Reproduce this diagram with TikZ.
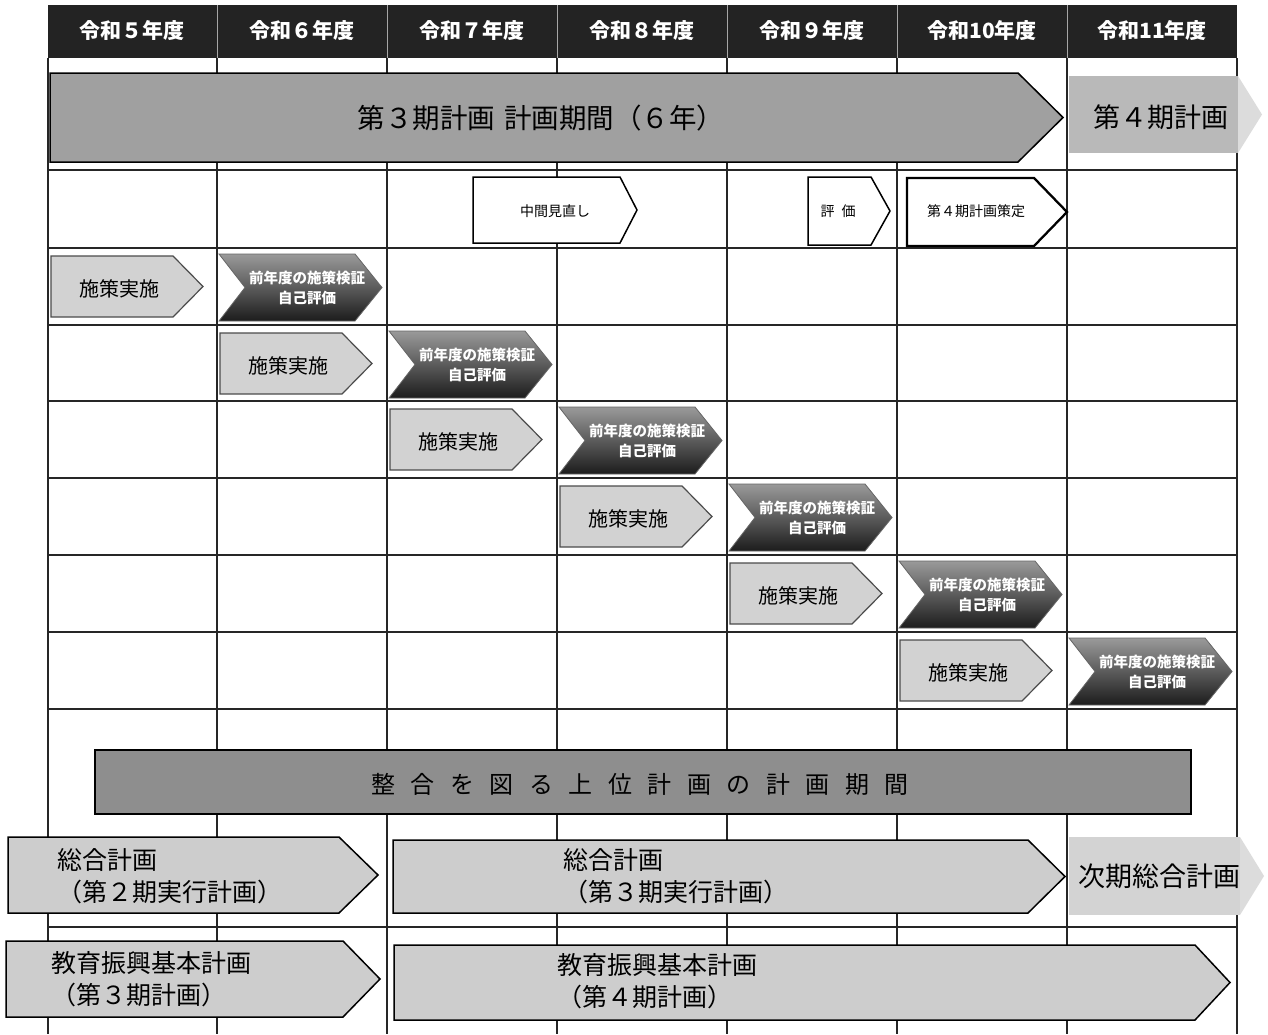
\documentclass[tikz,border=0pt]{standalone}
\usepackage{fontspec}
\newfontfamily\jp{Noto Sans CJK JP}
\definecolor{hdr}{HTML}{232323}
\definecolor{mainfill}{HTML}{A0A0A0}
\definecolor{fourthfill}{HTML}{B9B9B9}
\definecolor{fadefill}{HTML}{DCDCDC}
\definecolor{sesakufill}{HTML}{D2D2D2}
\definecolor{chevtop}{HTML}{9A9A9A}
\definecolor{chevbot}{HTML}{1C1C1C}
\definecolor{barfill}{HTML}{8E8E8E}
\definecolor{planfill}{HTML}{CDCDCD}
\definecolor{nextfill}{HTML}{D3D3D3}
\newcommand\pentarrow[6]{\path[#1] (#2,#3) -- (#4,#3) -- (#5,{(#3+#6)/2}) -- (#4,#6) -- (#2,#6) -- cycle;}
\newcommand\chevarrow[7]{\path[#1] (#2,#3) -- (#4,#3) -- (#5,{(#3+#6)/2}) -- (#4,#6) -- (#2,#6) -- ({#2+#7},{(#3+#6)/2}) -- cycle;}
\begin{document}
\begin{tikzpicture}[x=1pt,y=-1pt,line join=miter,
  gridline/.style={line width=1.2pt,black!85},
  hdrtxt/.style={inner sep=0,text=white,font=\jp\bfseries\fontsize{21}{24}\selectfont},
  bigtxt/.style={inner sep=0,font=\jp\fontsize{26}{30}\selectfont},
  smalltxt/.style={inner sep=0,font=\jp\fontsize{14}{16}\selectfont},
  sesakutxt/.style={inner sep=0,font=\jp\fontsize{20}{22}\selectfont},
  chevtxt/.style={inner sep=0,align=center,text=white,font=\jp\bfseries\fontsize{14.5}{20}\selectfont},
  plantxt/.style={inner sep=0,anchor=west,align=left,font=\jp\fontsize{25}{32}\selectfont},
  bartxt/.style={inner sep=0,font=\jp\fontsize{24}{28}\selectfont}]
\useasboundingbox (0,0) rectangle (1268,1034);
\fill[white] (0,0) rectangle (1268,1034);
% header
\fill[hdr] (48,5) rectangle (1237,58);
\foreach \x in {217,387,557,727,897,1067}
  \draw[gray!70,line width=0.8pt] (\x,5) -- (\x,58);
\foreach \i/\cx/\t in {5/132/令和５年度,6/302/令和６年度,7/472/令和７年度,8/642/令和８年度,9/812/令和９年度,10/982/令和10年度,11/1152/令和11年度}
  \node[hdrtxt] (h\i) at (\cx,31) {\t};
% grid
\foreach \x in {48,217,387,557,727,897,1067,1237}
  \draw[gridline] (\x,58) -- (\x,1034);
\foreach \y in {170,248,325,401,478,555,632,709,927}
  \draw[gridline] (48,\y) -- (1237,\y);
% main plan arrow
\pentarrow{fill=mainfill,draw=black,line width=1.5pt}{50}{73}{1018}{1063}{162}
\node[bigtxt,font=\jp\fontsize{27.5}{30}\selectfont] (main) at (541,118) {第３期計画\kern9pt 計画期間（６年）};
\fill[fourthfill] (1069,76) rectangle (1238,153);
\fill[fadefill] (1238,76) -- (1262,114.5) -- (1238,153) -- cycle;
\node[bigtxt,font=\jp\fontsize{27}{30}\selectfont] (p4) at (1161,117) {第４期計画};
% review arrows
\pentarrow{fill=white,draw=black,line width=1.5pt}{473}{177}{620}{637}{243}
\node[smalltxt] (mid) at (555,211) {中間見直し};
\pentarrow{fill=white,draw=black,line width=1.5pt}{808}{177}{871}{890}{245}
\node[smalltxt] (eval) at (838,211) {評\kern7pt 価};
\pentarrow{fill=white,draw=black,line width=2.3pt}{907}{178}{1034}{1067}{246}
\node[smalltxt] (draft) at (976,211) {第４期計画策定};
% yearly cycles
\foreach \k/\cx/\nx/\ry in {0/48/217/248,1/217/387/325,2/387/557/401,3/557/727/478,4/727/897/555,5/897/1067/632}{
  \pentarrow{fill=sesakufill,draw=black!70,line width=1.2pt}{\cx+3}{\ry+8}{\cx+125}{\cx+155}{\ry+69}
  \node[sesakutxt] (sesaku\k) at (\cx+71,\ry+41) {施策実施};
  \chevarrow{top color=chevtop,bottom color=chevbot,draw=black!60,line width=0.8pt}{\nx+2}{\ry+6}{\nx+138}{\nx+165}{\ry+73}{26}
  \node[chevtxt] (hyoka\k) at (\nx+90,\ry+40) {前年度の施策検証\\自己評価};
}
% upper plans
\draw[fill=barfill,draw=black,line width=1.5pt] (95,750) rectangle (1191,814);
\node[bartxt] (bar) at (640,784) {整\kern15.5pt 合\kern15.5pt を\kern15.5pt 図\kern15.5pt る\kern15.5pt 上\kern15.5pt 位\kern15.5pt 計\kern15.5pt 画\kern15.5pt の\kern15.5pt 計\kern15.5pt 画\kern15.5pt 期\kern15.5pt 間};
\pentarrow{fill=planfill,draw=black,line width=1.5pt}{8}{837}{339}{378}{913}
\node[plantxt] (sogo2) at (57,876) {総合計画\\（第２期実行計画）};
\pentarrow{fill=planfill,draw=black,line width=1.5pt}{393}{840}{1028}{1065}{913}
\node[plantxt] (sogo3) at (563,876) {総合計画\\（第３期実行計画）};
\fill[nextfill] (1069,837) rectangle (1240,915);
\fill[fadefill] (1240,837) -- (1264,876) -- (1240,915) -- cycle;
\node[bigtxt,font=\jp\fontsize{27}{30}\selectfont] (jiki) at (1159,876) {次期総合計画};
\pentarrow{fill=planfill,draw=black,line width=1.5pt}{6}{941}{343}{380}{1017}
\node[plantxt] (kyo3) at (51,979) {教育振興基本計画\\（第３期計画）};
\pentarrow{fill=planfill,draw=black,line width=1.5pt}{394}{945}{1195}{1230}{1020}
\node[plantxt] (kyo4) at (557,981) {教育振興基本計画\\（第４期計画）};
\end{tikzpicture}
\end{document}
